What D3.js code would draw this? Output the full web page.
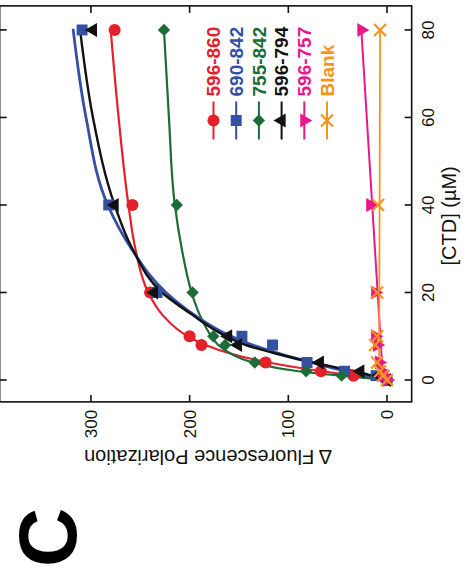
<!DOCTYPE html>
<html>
<head>
<meta charset="utf-8">
<script src="https://cdn.jsdelivr.net/npm/d3@7"></script>
<style>
  html, body { margin: 0; padding: 0; background: #fff; }
  svg { display: block; }
</style>
</head>
<body>
<script>
// [CTD] titration points (µM) and measured Δ fluorescence polarization
const conc = [0, 1, 2, 4, 8, 10, 20, 40, 80];
const seriesNames = ["596-860", "690-842", "755-842", "596-794", "596-757", "Blank"];
const seriesColors = ["#e4202a", "#3450a5", "#1b6c37", "#111111", "#ea168c", "#f7941d"];
const v596_860 = [0, 34, 67, 123, 188, 200, 240, 258, 276];
const v690_842 = [0, 11, 43, 81, 116, 147, 233, 282, 309];
const v755_842 = [0, 46, 82, 134, 164, 176, 197, 213, 226];
const v596_794 = [0, 8, 27, 68, 151, 161, 236, 276, 298];
const v596_757 = [0, 3, 5, 8, 10, 12, 12, 17, 26];
const vBlank   = [0, 4, 7, 10, 12, 10, 10, 9, 7];

// fitted binding curves, sampled along [CTD]
const fitConc = [0, 1, 2, 4, 6, 8, 10, 15, 20, 30, 40, 60, 80];
const fit596_860 = [0, 34, 66, 120, 158, 184, 202, 228, 242, 255, 262, 272, 280];
const fit690_842 = [0, 22, 42, 76, 108, 136, 158, 196, 224, 259, 283, 305, 318];
const fit755_842 = [0, 48, 90, 136, 158, 171, 178, 190, 198, 208, 215, 221, 226];
const fit596_794 = [0, 15, 33, 76, 112, 143, 163, 198, 228, 258, 276, 298, 311];
// linear fits for the non-binding constructs
const linConc = [0, 80];
const fit596_757 = [4, 26];
const fitBlank = [8, 7];

const xTicks = [0, 20, 40, 60, 80];
const yTicks = [0, 100, 200, 300];

const W = 469, H = 575;
const svg = d3.select("body").append("svg").attr("width", W).attr("height", H);

// plot drawn upright, then turned a quarter turn counter-clockwise
const plotW = 396, plotH = 412;
const x = d3.scaleLinear().domain([-5, 85.5]).range([0, plotW]);
const y = d3.scaleLinear().domain([-25, 392.5]).range([plotH, 0]);
const tx = 387 - y(0), ty = 380 + x(0);

const g = svg.append("g").attr("transform", `translate(${tx},${ty}) rotate(-90)`);

const font = "'Liberation Sans', Arial, Helvetica, sans-serif";

// frame
g.append("rect").attr("x", 0).attr("y", 0).attr("width", plotW).attr("height", plotH)
  .attr("fill", "none").attr("stroke", "#111").attr("stroke-width", 1.6);

// inward ticks on all four sides
const tickLen = 7;
xTicks.forEach(t => {
  g.append("line").attr("x1", x(t)).attr("x2", x(t)).attr("y1", plotH).attr("y2", plotH - tickLen)
    .attr("stroke", "#111").attr("stroke-width", 1.6);
  g.append("line").attr("x1", x(t)).attr("x2", x(t)).attr("y1", 0).attr("y2", tickLen)
    .attr("stroke", "#111").attr("stroke-width", 1.6);
});
yTicks.forEach(t => {
  g.append("line").attr("x1", 0).attr("x2", tickLen).attr("y1", y(t)).attr("y2", y(t))
    .attr("stroke", "#111").attr("stroke-width", 1.6);
  g.append("line").attr("x1", plotW).attr("x2", plotW - tickLen).attr("y1", y(t)).attr("y2", y(t))
    .attr("stroke", "#111").attr("stroke-width", 1.6);
});

// tick labels
g.selectAll("text.xt").data(xTicks).join("text").attr("class", "xt")
  .attr("x", d => x(d)).attr("y", plotH + 22)
  .attr("text-anchor", "middle").attr("font-family", font).attr("font-size", 17).attr("fill", "#111")
  .text(d => d);
g.selectAll("text.yt").data(yTicks).join("text").attr("class", "yt")
  .attr("x", -8).attr("y", d => y(d)).attr("dy", "0.35em")
  .attr("text-anchor", "end").attr("font-family", font).attr("font-size", 17).attr("fill", "#111")
  .text(d => d);

// axis titles
g.append("text").attr("x", plotW / 2 - 12).attr("y", plotH + 44)
  .attr("text-anchor", "middle").attr("font-family", font).attr("font-size", 20).attr("fill", "#111")
  .text("[CTD] (µM)");
g.append("text").attr("transform", `translate(-48,${208 - tx}) rotate(-90)`)
  .attr("text-anchor", "middle").attr("font-family", font).attr("font-size", 20).attr("fill", "#111")
  .text("Δ Fluorescence Polarization");

// series definitions
const series = [
  { name: seriesNames[0], color: seriesColors[0], pts: v596_860, fx: fitConc, fy: fit596_860, sym: d3.symbolCircle, size: 115, rot: 0, w: 2.2 },
  { name: seriesNames[1], color: seriesColors[1], pts: v690_842, fx: fitConc, fy: fit690_842, sym: d3.symbolSquare, size: 120, rot: 0, w: 2.8 },
  { name: seriesNames[2], color: seriesColors[2], pts: v755_842, fx: fitConc, fy: fit755_842, sym: d3.symbolSquare, size: 76, rot: 45, w: 2.2 },
  { name: seriesNames[3], color: seriesColors[3], pts: v596_794, fx: fitConc, fy: fit596_794, sym: d3.symbolTriangle, size: 85, rot: 0, w: 2.4 },
  { name: seriesNames[4], color: seriesColors[4], pts: v596_757, fx: linConc, fy: fit596_757, sym: d3.symbolTriangle, size: 85, rot: 180, w: 2 },
  { name: seriesNames[5], color: seriesColors[5], pts: vBlank, fx: linConc, fy: fitBlank, sym: d3.symbolTimes, size: 95, rot: 0, w: 1.8, stroke: true }
];

const line = d3.line().x(d => x(d[0])).y(d => y(d[1])).curve(d3.curveMonotoneX);

// fitted curves
const drawOrder = [0, 2, 1, 3, 4, 5];
drawOrder.forEach(i => {
  const s = series[i];
  g.append("path").datum(s.fx.map((c, k) => [c, s.fy[k]]))
    .attr("d", line).attr("fill", "none").attr("stroke", s.color)
    .attr("stroke-width", s.w).attr("stroke-linecap", "round");
});

function marker(sel, s) {
  sel.attr("d", d3.symbol().type(s.sym).size(s.size)());
  if (s.stroke) sel.attr("fill", "none").attr("stroke", s.color).attr("stroke-width", 2.2);
  else sel.attr("fill", s.color);
}

// data points
series.forEach(s => {
  g.append("g").selectAll("path").data(conc.map((c, k) => [c, s.pts[k]])).join("path")
    .attr("transform", d => `translate(${x(d[0])},${y(d[1])}) rotate(${s.rot})`)
    .call(marker, s);
});

// legend
const legX = ty - 120.5, legY0 = 213.5 - tx, legStep = 22.7;
series.forEach((s, i) => {
  const ly = legY0 + i * legStep;
  const lg = g.append("g");
  lg.append("line").attr("x1", legX - 19).attr("x2", legX + 19).attr("y1", ly).attr("y2", ly)
    .attr("stroke", s.color).attr("stroke-width", 2);
  lg.append("path").attr("transform", `translate(${legX},${ly}) rotate(${s.rot})`).call(marker, s);
  lg.append("text").attr("x", legX + 24).attr("y", ly).attr("dy", "0.36em")
    .attr("font-family", font).attr("font-size", 19).attr("font-weight", "bold")
    .attr("fill", s.color).text(s.name);
});

// panel letter
svg.append("text").attr("transform", "translate(76,537.5) rotate(-90)")
  .attr("text-anchor", "middle").attr("font-family", font).attr("font-size", 82)
  .attr("font-weight", "bold").attr("fill", "#000").text("C");
</script>
</body>
</html>
